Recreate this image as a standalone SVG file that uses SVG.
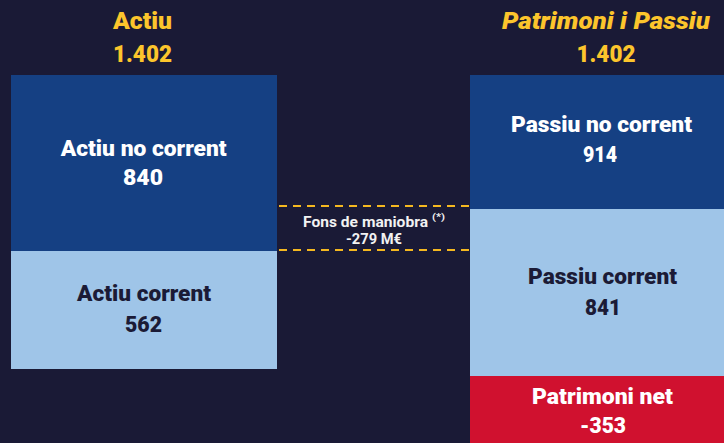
<svg xmlns="http://www.w3.org/2000/svg" width="724" height="443" viewBox="0 0 724 443">
<style>
text{font-family:Roboto,"Liberation Sans",sans-serif;font-weight:900;text-anchor:middle}
.t{font-size:24px;fill:#fcc52c}
.w{font-size:22px;fill:#ffffff}
.d{font-size:22px;fill:#1b1b36}
.s{font-size:14px;fill:#f2f2f2;font-weight:bold}
.dash{stroke:#f5b820;stroke-width:2;stroke-dasharray:8 6;fill:none}
</style>
<rect width="724" height="443" fill="#1a1a36"/>
<g id="header-actiu">
<text class="t" x="142.5" y="29" textLength="59" lengthAdjust="spacingAndGlyphs">Actiu</text>
<text class="t" x="142.5" y="62" textLength="59" lengthAdjust="spacingAndGlyphs">1.402</text>
</g>
<g id="header-passiu">
<text class="t" x="606" y="29" font-style="italic" textLength="208" lengthAdjust="spacingAndGlyphs">Patrimoni i Passiu</text>
<text class="t" x="606" y="62" textLength="59" lengthAdjust="spacingAndGlyphs">1.402</text>
</g>
<g id="actiu-no-corrent">
<rect x="11" y="75" width="266" height="176" fill="#154083"/>
<text class="w" x="143.7" y="156" textLength="166" lengthAdjust="spacingAndGlyphs">Actiu no corrent</text>
<text class="w" x="143" y="185" textLength="40" lengthAdjust="spacingAndGlyphs">840</text>
</g>
<g id="actiu-corrent">
<rect x="11" y="251" width="266" height="118" fill="#9fc5e8"/>
<text class="d" x="144" y="301" textLength="134" lengthAdjust="spacingAndGlyphs">Actiu corrent</text>
<text class="d" x="143.5" y="332" textLength="37" lengthAdjust="spacingAndGlyphs">562</text>
</g>
<g id="passiu-no-corrent">
<rect x="470" y="75" width="254" height="134" fill="#154083"/>
<text class="w" x="601.5" y="132" textLength="181" lengthAdjust="spacingAndGlyphs">Passiu no corrent</text>
<text class="w" x="600" y="162" textLength="34" lengthAdjust="spacingAndGlyphs">914</text>
</g>
<g id="passiu-corrent">
<rect x="470" y="209" width="254" height="167" fill="#9fc5e8"/>
<text class="d" x="602.5" y="284" textLength="149" lengthAdjust="spacingAndGlyphs">Passiu corrent</text>
<text class="d" x="603" y="315" textLength="36" lengthAdjust="spacingAndGlyphs">841</text>
</g>
<g id="patrimoni-net">
<rect x="470" y="376" width="254" height="67" fill="#d0112f"/>
<text class="w" x="602.5" y="404" textLength="141" lengthAdjust="spacingAndGlyphs">Patrimoni net</text>
<text class="w" x="603" y="433" textLength="46" lengthAdjust="spacingAndGlyphs">-353</text>
</g>
<g id="connectors">
<line class="dash" x1="279" y1="206" x2="470" y2="206"/>
<line class="dash" x1="279" y1="250" x2="470" y2="250"/>
</g>
<g id="fons-maniobra">
<text class="s" x="365.5" y="227" textLength="125" lengthAdjust="spacingAndGlyphs">Fons de maniobra</text>
<text x="438.5" y="220" style="font-size:9px;fill:#f2f2f2;font-weight:bold" textLength="13" lengthAdjust="spacingAndGlyphs">(*)</text>
<text class="s" x="374" y="244" textLength="56" lengthAdjust="spacingAndGlyphs">-279 M€</text>
</g>
</svg>
